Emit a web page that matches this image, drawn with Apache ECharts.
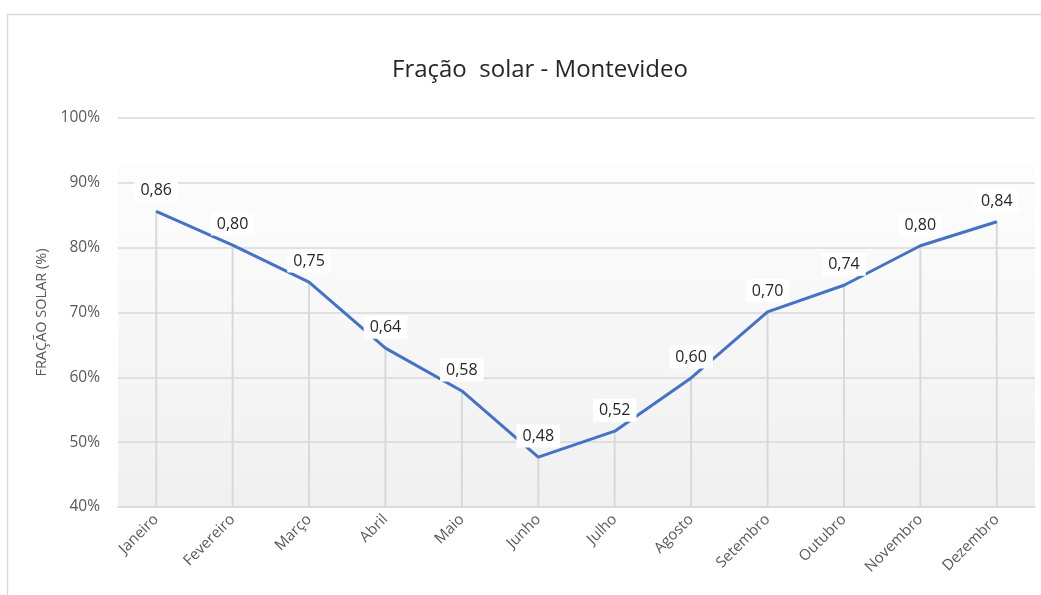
<!DOCTYPE html>
<html>
<head>
<meta charset="utf-8">
<script src="https://cdn.jsdelivr.net/npm/echarts@6/dist/echarts.min.js"></script>
<style>
  html, body { margin: 0; padding: 0; background: #fff; }
  #main { width: 1041px; height: 595px; }
</style>
</head>
<body>
<div id="main"></div>
<script>
// dados
var meses = ['Janeiro', 'Fevereiro', 'Março', 'Abril', 'Maio', 'Junho',
             'Julho', 'Agosto', 'Setembro', 'Outubro', 'Novembro', 'Dezembro'];
var fracaoSolar = [0.856, 0.804, 0.747, 0.645, 0.579, 0.477,
                   0.517, 0.599, 0.701, 0.742, 0.803, 0.840];
var rotulos = ['0,86', '0,80', '0,75', '0,64', '0,58', '0,48',
               '0,52', '0,60', '0,70', '0,74', '0,80', '0,84'];

var myChart = echarts.init(document.getElementById('main'));

var fonte = '"Open Sans", "Noto Sans", sans-serif';

var option = {
    animation: false,
    textStyle: { fontFamily: fonte },
    title: {
        text: 'Fração  solar - Montevideo',
        left: 387,
        top: 53,
        textStyle: { fontSize: 24, fontWeight: 'normal', color: '#262626', fontFamily: fonte }
    },
    graphic: [{
        type: 'rect',
        shape: { x: 7.5, y: 14.5, width: 1060, height: 620 },
        style: { fill: 'none', stroke: '#d9d9d9', lineWidth: 1.5 },
        z: -10
    }],
    grid: {
        left: 118,
        right: 6,
        top: 118,
        bottom: 88,
        show: true,
        borderWidth: 0,
        backgroundColor: new echarts.graphic.LinearGradient(0, 0, 0, 1, [
            { offset: 0, color: '#ffffff' },
            { offset: 0.11, color: '#ffffff' },
            { offset: 0.12, color: '#fdfdfd' },
            { offset: 1, color: '#f0f0f0' }
        ])
    },
    xAxis: {
        type: 'category',
        data: meses,
        boundaryGap: true,
        axisLine: { lineStyle: { color: '#d9d9d9', width: 1.5 } },
        axisTick: { show: false },
        axisLabel: {
            rotate: 45,
            color: '#595959',
            fontSize: 15,
            margin: 10,
            interval: 0
        },
        splitLine: { show: false }
    },
    yAxis: {
        type: 'value',
        min: 0.4,
        max: 1.0,
        interval: 0.1,
        name: 'FRAÇÃO SOLAR (%)',
        nameLocation: 'middle',
        nameGap: 66,
        nameTextStyle: { color: '#595959', fontSize: 14.5 },
        axisLine: { show: false },
        axisTick: { show: false },
        axisLabel: {
            color: '#595959',
            fontSize: 15.5,
            margin: 18,
            formatter: function (v) { return Math.round(v * 100) + '%'; }
        },
        splitLine: { lineStyle: { color: '#d9d9d9', width: 1.5 } }
    },
    series: [
        {
            // linhas de projeção
            type: 'bar',
            data: fracaoSolar,
            barWidth: 2,
            barGap: '-100%',
            itemStyle: { color: '#d9d9d9' },
            silent: true,
            z: 1
        },
        {
            name: 'Fração solar',
            type: 'line',
            data: fracaoSolar,
            showSymbol: true,
            symbol: 'circle',
            symbolSize: 1,
            lineStyle: { color: '#4472c4', width: 3 },
            itemStyle: { color: '#4472c4' },
            z: 3,
            label: {
                show: true,
                position: 'top',
                distance: 9,
                color: '#262626',
                fontSize: 16,
                backgroundColor: '#ffffff',
                padding: [4, 6, 3, 6],
                formatter: function (p) { return rotulos[p.dataIndex]; }
            }
        }
    ]
};

myChart.setOption(option);
</script>
</body>
</html>
